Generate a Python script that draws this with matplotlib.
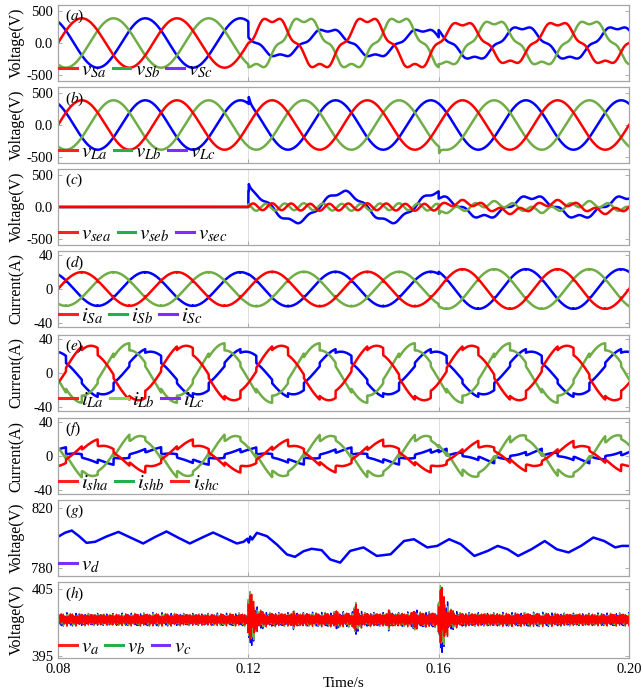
import numpy as np
import matplotlib
matplotlib.use('Agg')
import matplotlib.pyplot as plt
from matplotlib.lines import Line2D

plt.rcParams['font.family'] = ['Liberation Serif', 'DejaVu Serif']
plt.rcParams['mathtext.fontset'] = 'stix'

# ---- time base / segments (fault at 0.12 s, change at 0.16 s) ----
T0, T1 = 0.08, 0.20
F0 = 50
DT = 5e-6
SEG_EDGES = [0.08, 0.12, 0.16, 0.20]
PHASE_OFFSET = [0, -120, 120]          # a, b, c (deg)

# (a) source voltage, per segment
VS_AMP = [[390, 385, 320], [390, 385, 340], [390, 210, 250]]
VS_SHIFT = [[0, 0, 0], [0, 0, 0], [0, 30, 14]]     # deg
VS_H5 = [0.0, 0.14, 0.13]

# (b) load voltage
VL_AMP = 390
VL_KICK_T = [0.1201, 0.1601]
VL_KICK_PHASE = [2, 1]
VL_KICK_V = [110, -100]

# (d) source current
IS_AMP = [20, 20.5, 23.5]
IS_SPIKE = 0.2

# (e) load current: lagging fundamental + six-pulse staircase
IL_AMP = [28, 31, 21]
IL_LAG = [35, 62, 20]
IL_STEP = 8.5
STAIR_EDGES = [30, 90, 150, 210, 270, 330]
STAIR_LEVELS = [1.0, 0.5, -0.5, -1.0, -0.5, 0.5]   # level after each edge

# (g) dc voltage, read points
VD_T = [0.0800, 0.0815, 0.0829, 0.0845, 0.0860, 0.0878, 0.0902, 0.0927, 0.0953, 0.0979,
        0.1003, 0.1028, 0.1052, 0.1077, 0.1101, 0.1126, 0.1151, 0.1176, 0.1190, 0.1198,
        0.1201, 0.1204, 0.1208, 0.1218, 0.1239, 0.1260, 0.1281, 0.1298, 0.1316, 0.1333,
        0.1354, 0.1372, 0.1393, 0.1414, 0.1442, 0.1470, 0.1499, 0.1527, 0.1548, 0.1576,
        0.1597, 0.1622, 0.1646, 0.1675, 0.1703, 0.1724, 0.1745, 0.1767, 0.1795, 0.1823,
        0.1848, 0.1873, 0.1899, 0.1925, 0.1948, 0.1971, 0.1985, 0.2000]
VD_V = [800.8, 803.5, 804.9, 801.0, 796.8, 797.5, 801.0, 804.0, 800.2, 796.4,
        800.5, 804.3, 800.3, 796.4, 800.0, 803.6, 800.0, 796.4, 797.5, 799.5,
        797.0, 801.0, 799.0, 803.4, 801.2, 795.7, 789.2, 787.6, 791.3, 792.9,
        792.0, 785.9, 783.8, 791.5, 793.8, 788.2, 789.3, 798.0, 799.2, 793.8,
        794.8, 799.2, 796.0, 788.2, 791.5, 794.8, 792.6, 788.2, 792.6, 798.0,
        792.6, 790.5, 794.8, 800.3, 798.0, 793.8, 794.8, 794.8]

# (h) ripple band: level, envelope, carrier tones
VH_LEVEL = 400.4
VH_ENV_T = [0.08, 0.1199, 0.1201, 0.1208, 0.1218, 0.1238, 0.1290, 0.1295, 0.1300, 0.1380,
            0.1385, 0.1390, 0.1420, 0.1424, 0.1432, 0.1445, 0.1490, 0.1495, 0.1500, 0.1545,
            0.1550, 0.1556, 0.1599, 0.1602, 0.1610, 0.1622, 0.1642, 0.20]
VH_ENV_V = [0.75, 0.75, 5.0, 3.0, 1.4, 0.85, 0.85, 1.3, 0.85, 0.85,
            1.3, 0.85, 0.85, 2.4, 1.1, 0.85, 0.85, 1.5, 0.85, 0.9,
            1.6, 0.9, 0.9, 5.6, 3.3, 1.4, 0.85, 0.75]
VH_TONE_F = [3100, 4650, 7300, 9900]
VH_TONE_W = [1.0, 0.8, 0.6, 0.5]
VH_PHASE_GAIN = [1.0, 1.05, 1.08]

RED, GREEN, BLUE = '#ff0000', '#70ad47', '#0000ff'
LEG_RED, LEG_GREEN, LEG_PURPLE, LEG_LIGHT = '#ff2020', '#22b04a', '#7b2fff', '#92d050'

t = np.arange(T0, T1 + DT / 2, DT)
seg = np.searchsorted(SEG_EDGES[1:3], t, side='right')
theta = 360.0 * F0 * (t - T0)


def staircase(psi):
    x = np.mod(psi, 360)
    idx = np.searchsorted(STAIR_EDGES, x, side='right') - 1   # -1 -> before 30 deg
    return np.array(STAIR_LEVELS)[idx]


def lag_filter(x, tau):
    y = np.empty_like(x)
    y[0] = x[0]
    a = DT / (tau + DT)
    for i in range(1, len(x)):
        y[i] = y[i - 1] + a * (x[i] - y[i - 1])
    return y


v_s, v_l, v_se, i_s, i_l, i_sh = [], [], [], [], [], []
for p in range(3):
    psi = np.radians(theta + PHASE_OFFSET[p] + np.array(VS_SHIFT[p])[seg])
    vs = np.array(VS_AMP[p])[seg] * (np.sin(psi) - np.array(VS_H5)[seg] * np.sin(5 * psi))
    vl = VL_AMP * np.sin(np.radians(theta + PHASE_OFFSET[p]))
    for tk, pk, vk in zip(VL_KICK_T, VL_KICK_PHASE, VL_KICK_V):
        if pk == p:
            vl = vl + np.where(t >= tk, vk * np.exp(-(t - tk) / 0.0004), 0.0)
    v_s.append(vs)
    v_l.append(vl)
    v_se.append(vl - vs)

    ang = theta + PHASE_OFFSET[p]
    step = IL_STEP * staircase(ang)
    il = IL_AMP[p] * np.sin(np.radians(ang - IL_LAG[p])) + step
    isrc = np.array(IS_AMP)[seg] * np.sin(np.radians(ang)) \
        + IS_SPIKE * (step - lag_filter(step, 0.0001))
    i_l.append(il)
    i_s.append(isrc)
    i_sh.append(il - isrc)

env = np.interp(t, VH_ENV_T, VH_ENV_V)
v_h = []
for p in range(3):
    car = sum(w * np.sin(2 * np.pi * f * t + 1.3 * p + 0.7 * k)
              for k, (f, w) in enumerate(zip(VH_TONE_F, VH_TONE_W))) / sum(VH_TONE_W)
    v_h.append(VH_LEVEL + VH_PHASE_GAIN[p] * env * car * 1.3)

# ---- figure ----
W, H = 643, 691
fig = plt.figure(figsize=(W / 100, H / 100), dpi=100)
tops = [5, 87, 169, 251, 335, 418, 500, 582]
ph = 76
axes = [fig.add_axes([58 / W, 1 - (tp + ph) / H, 571 / W, ph / H]) for tp in tops]

line_cols = [RED, GREEN, BLUE]
panels = [
    ('a', v_s, 'Voltage(V)', (-600, 600), [-500, 0, 500], ['-500', '0.0', '500'],
     [r'$v_{Sa}$', r'$v_{Sb}$', r'$v_{Sc}$'], [LEG_RED, LEG_GREEN, LEG_PURPLE]),
    ('b', v_l, 'Voltage(V)', (-600, 600), [-500, 0, 500], ['-500', '0.0', '500'],
     [r'$v_{La}$', r'$v_{Lb}$', r'$v_{Lc}$'], [LEG_RED, LEG_GREEN, LEG_PURPLE]),
    ('c', v_se, 'Voltage(V)', (-600, 600), [-500, 0, 500], ['-500', '0.0', '500'],
     [r'$v_{sea}$', r'$v_{seb}$', r'$v_{sec}$'], [LEG_RED, LEG_GREEN, LEG_PURPLE]),
    ('d', i_s, 'Current(A)', (-45, 45), [-40, 0, 40], ['-40', '0', '40'],
     [r'$i_{Sa}$', r'$i_{Sb}$', r'$i_{Sc}$'], [LEG_RED, LEG_GREEN, LEG_PURPLE]),
    ('e', i_l, 'Current(A)', (-45, 45), [-40, 0, 40], ['-40', '0', '40'],
     [r'$i_{La}$', r'$i_{Lb}$', r'$i_{Lc}$'], [LEG_RED, LEG_LIGHT, LEG_PURPLE]),
    ('f', i_sh, 'Current(A)', (-45, 45), [-40, 0, 40], ['-40', '0', '40'],
     [r'$i_{sha}$', r'$i_{shb}$', r'$i_{shc}$'], [LEG_RED, LEG_GREEN, LEG_RED]),
    ('g', None, 'Voltage(V)', (775, 825), [780, 820], ['780', '820'],
     [r'$v_{d}$'], [LEG_PURPLE]),
    ('h', v_h, 'Voltage(V)', (394.7, 406.0), [395, 405], ['395', '405'],
     [r'$v_{a}$', r'$v_{b}$', r'$v_{c}$'], [LEG_RED, LEG_GREEN, LEG_PURPLE]),
]

for ax, (tag, data, ylab, ylim, yt, ytl, labels, lcols) in zip(axes, panels):
    if data is None:
        ax.plot(VD_T, VD_V, color=BLUE, lw=1.8)
    else:
        for p in (2, 1, 0):
            ax.plot(t, data[p], color=line_cols[p], lw=1.8 if tag != 'h' else 1.0)
    ax.set_xlim(T0, T1)
    ax.set_ylim(*ylim)
    ax.set_yticks(yt)
    ax.set_yticklabels(ytl)
    ax.set_xticks([0.08, 0.12, 0.16, 0.20])
    ax.grid(axis='x', color='#d9d9d9', lw=0.6)
    ax.tick_params(direction='in', length=3, width=0.6, color='#a0a0a0',
                   labelsize=10.5, pad=3.5, right=True)
    for s in ax.spines.values():
        s.set_color('#a6a6a6')
        s.set_linewidth(0.9)
    ax.set_ylabel(ylab, fontsize=11.5)
    ax.yaxis.set_label_coords(-0.058, 0.5)
    ax.text(0.012, 0.96, r'($%s$)' % tag, transform=ax.transAxes, va='top',
            ha='left', fontsize=11)
    handles = [Line2D([], [], color=c, lw=2.2) for c in lcols]
    ax.legend(handles, labels, loc='lower left', ncol=len(labels), frameon=False,
              fontsize=15, handlelength=0.85, handletextpad=0.2, columnspacing=0.3,
              borderaxespad=0.0, borderpad=0.05)
    if tag != 'h':
        ax.tick_params(labelbottom=False)
    else:
        ax.set_xticklabels(['0.08', '0.12', '0.16', '0.20'])
        ax.set_xlabel('Time/s', fontsize=11, labelpad=1)

fig.savefig('out.png', dpi=100)
